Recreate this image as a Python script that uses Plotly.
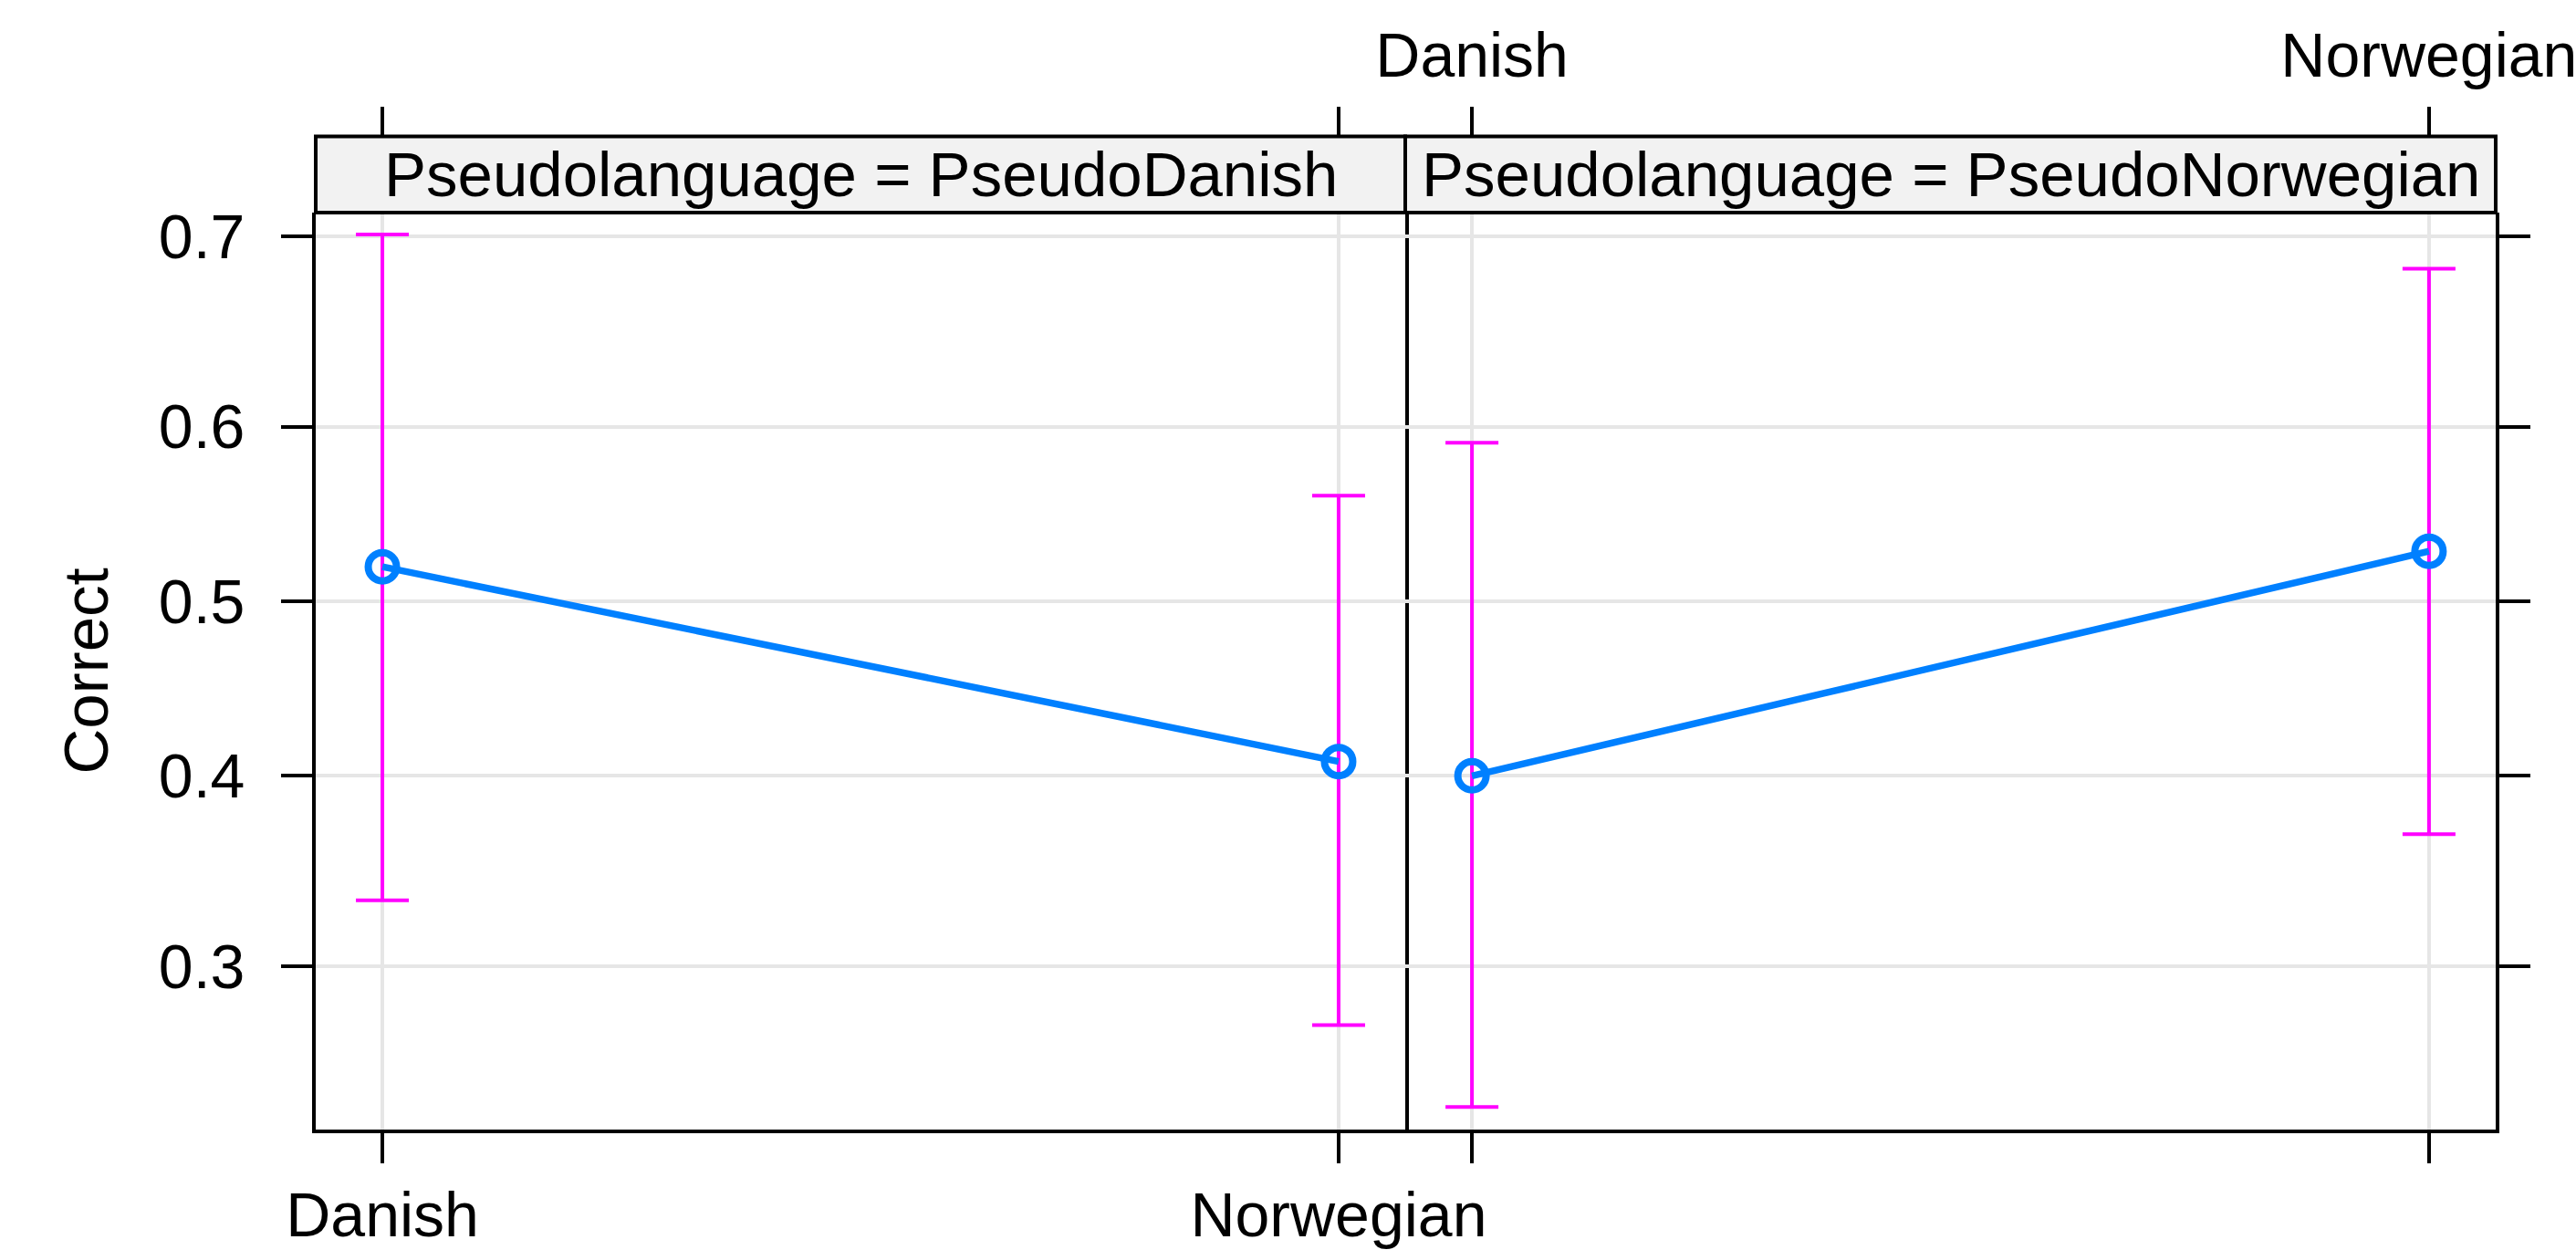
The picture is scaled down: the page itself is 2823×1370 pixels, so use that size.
import numpy as np
import plotly.graph_objects as go

# ---- data (probabilities) ----
categories = ["Danish", "Norwegian"]
panel_levels = ["PseudoDanish", "PseudoNorwegian"]

fit_pseudodanish = [0.520, 0.408]
lower_pseudodanish = [0.333, 0.272]
upper_pseudodanish = [0.701, 0.561]

fit_pseudonorwegian = [0.400, 0.529]
lower_pseudonorwegian = [0.236, 0.368]
upper_pseudonorwegian = [0.591, 0.684]

y_tick_values = [0.3, 0.4, 0.5, 0.6, 0.7]
y_tick_labels = ["0.3", "0.4", "0.5", "0.6", "0.7"]
y_limits = [0.2267, 0.7115]


def logit(p):
    p = np.asarray(p, dtype=float)
    return np.log(p / (1 - p))


W, H = 2823, 1370
FONT = "Liberation Sans, Arial, Helvetica, sans-serif"
BLUE = "#0080FF"
MAGENTA = "#FF00FF"
GRID = "#E6E6E6"
LW = 4

left_dom = [346 / W, 1540 / W]
right_dom = [1540 / W, 2735 / W]
y_dom = [(H - 1238) / H, (H - 233) / H]
strip_top = (H - 149.6) / H

fig = go.Figure()

panels = [
    (fit_pseudodanish, lower_pseudodanish, upper_pseudodanish, "x", "y", "x3"),
    (fit_pseudonorwegian, lower_pseudonorwegian, upper_pseudonorwegian, "x2", "y2", "x4"),
]
for fit, lo, up, xa, ya, xo in panels:
    lf = logit(fit)
    fig.add_trace(go.Scatter(
        x=categories, y=lf, xaxis=xa, yaxis=ya, mode="markers",
        marker=dict(size=1, color="rgba(0,0,0,0)"),
        error_y=dict(type="data", symmetric=False,
                     array=logit(up) - lf, arrayminus=lf - logit(lo),
                     color=MAGENTA, thickness=4, width=29),
        showlegend=False, hoverinfo="skip"))
    fig.add_trace(go.Scatter(
        x=categories, y=lf, xaxis=xo, yaxis=ya, mode="lines+markers",
        line=dict(color=BLUE, width=7.5),
        marker=dict(symbol="circle-open", size=31, color=BLUE, line=dict(width=8, color=BLUE)),
        showlegend=False))

x_range = [-0.0697, 1.0697]
y_range = list(logit(y_limits))

base_x = dict(range=x_range, type="category", showgrid=True, gridcolor=GRID, gridwidth=4,
              showline=True, linecolor="black", linewidth=LW, mirror=False,
              ticks="outside", ticklen=33, tickwidth=LW, tickcolor="black",
              tickfont=dict(family=FONT, size=68, color="black"), zeroline=False,
              automargin=False)

top_x = dict(range=x_range, type="category", showgrid=False, showline=False,
             side="top", anchor="free", position=strip_top,
             ticks="outside", ticklen=33, tickwidth=LW, tickcolor="black",
             tickfont=dict(family=FONT, size=68, color="black"), zeroline=False,
             ticklabelstandoff=5, automargin=False)

fig.update_layout(
    template="none",
    width=W, height=H, autosize=False,
    margin=dict(l=0, r=0, t=0, b=0, pad=0),
    paper_bgcolor="white", plot_bgcolor="white",
    xaxis=dict(base_x, domain=left_dom, anchor="y", ticklabelstandoff=-2),
    xaxis2=dict(base_x, domain=right_dom, anchor="y2", showticklabels=False),
    xaxis3=dict(top_x, overlaying="x", showticklabels=False),
    xaxis4=dict(top_x, overlaying="x2", showticklabels=True),
    yaxis=dict(domain=y_dom, anchor="x", range=y_range,
               tickvals=list(logit(y_tick_values)), ticktext=y_tick_labels,
               showgrid=True, gridcolor=GRID, gridwidth=4, zeroline=False,
               showline=True, linecolor="black", linewidth=LW, mirror=True,
               ticks="outside", ticklen=34, tickwidth=LW, tickcolor="black",
               tickfont=dict(family=FONT, size=68, color="black"),
               ticklabelstandoff=26, automargin=False),
    yaxis2=dict(domain=y_dom, anchor="x2", range=y_range, side="right",
                tickvals=list(logit(y_tick_values)), ticktext=y_tick_labels,
                showticklabels=False,
                showgrid=True, gridcolor=GRID, gridwidth=4, zeroline=False,
                showline=True, linecolor="black", linewidth=LW, mirror=False,
                ticks="outside", ticklen=34, tickwidth=LW, tickcolor="black",
                automargin=False),
)

# strips
for dom, lev in zip([left_dom, right_dom], panel_levels):
    fig.add_shape(type="rect", xref="paper", yref="paper",
                  x0=dom[0], x1=dom[1], y0=y_dom[1], y1=strip_top,
                  fillcolor="#F2F2F2", line=dict(color="black", width=LW), layer="above")
    fig.add_annotation(xref="paper", yref="paper", x=(dom[0] + dom[1]) / 2,
                       y=(y_dom[1] + strip_top) / 2, xanchor="center", yanchor="middle",
                       text=f"Pseudolanguage = {lev}", showarrow=False,
                       font=dict(family=FONT, size=69, color="black"))

fig.add_annotation(xref="paper", yref="paper", x=94 / W, y=(y_dom[0] + y_dom[1]) / 2,
                   xanchor="center", yanchor="middle", text="Correct", textangle=-90,
                   showarrow=False, font=dict(family=FONT, size=69, color="black"))

fig.write_html("out.html",
               config={"displayModeBar": False},
               post_script="document.body.style.margin='0';document.body.style.overflow='hidden';")
